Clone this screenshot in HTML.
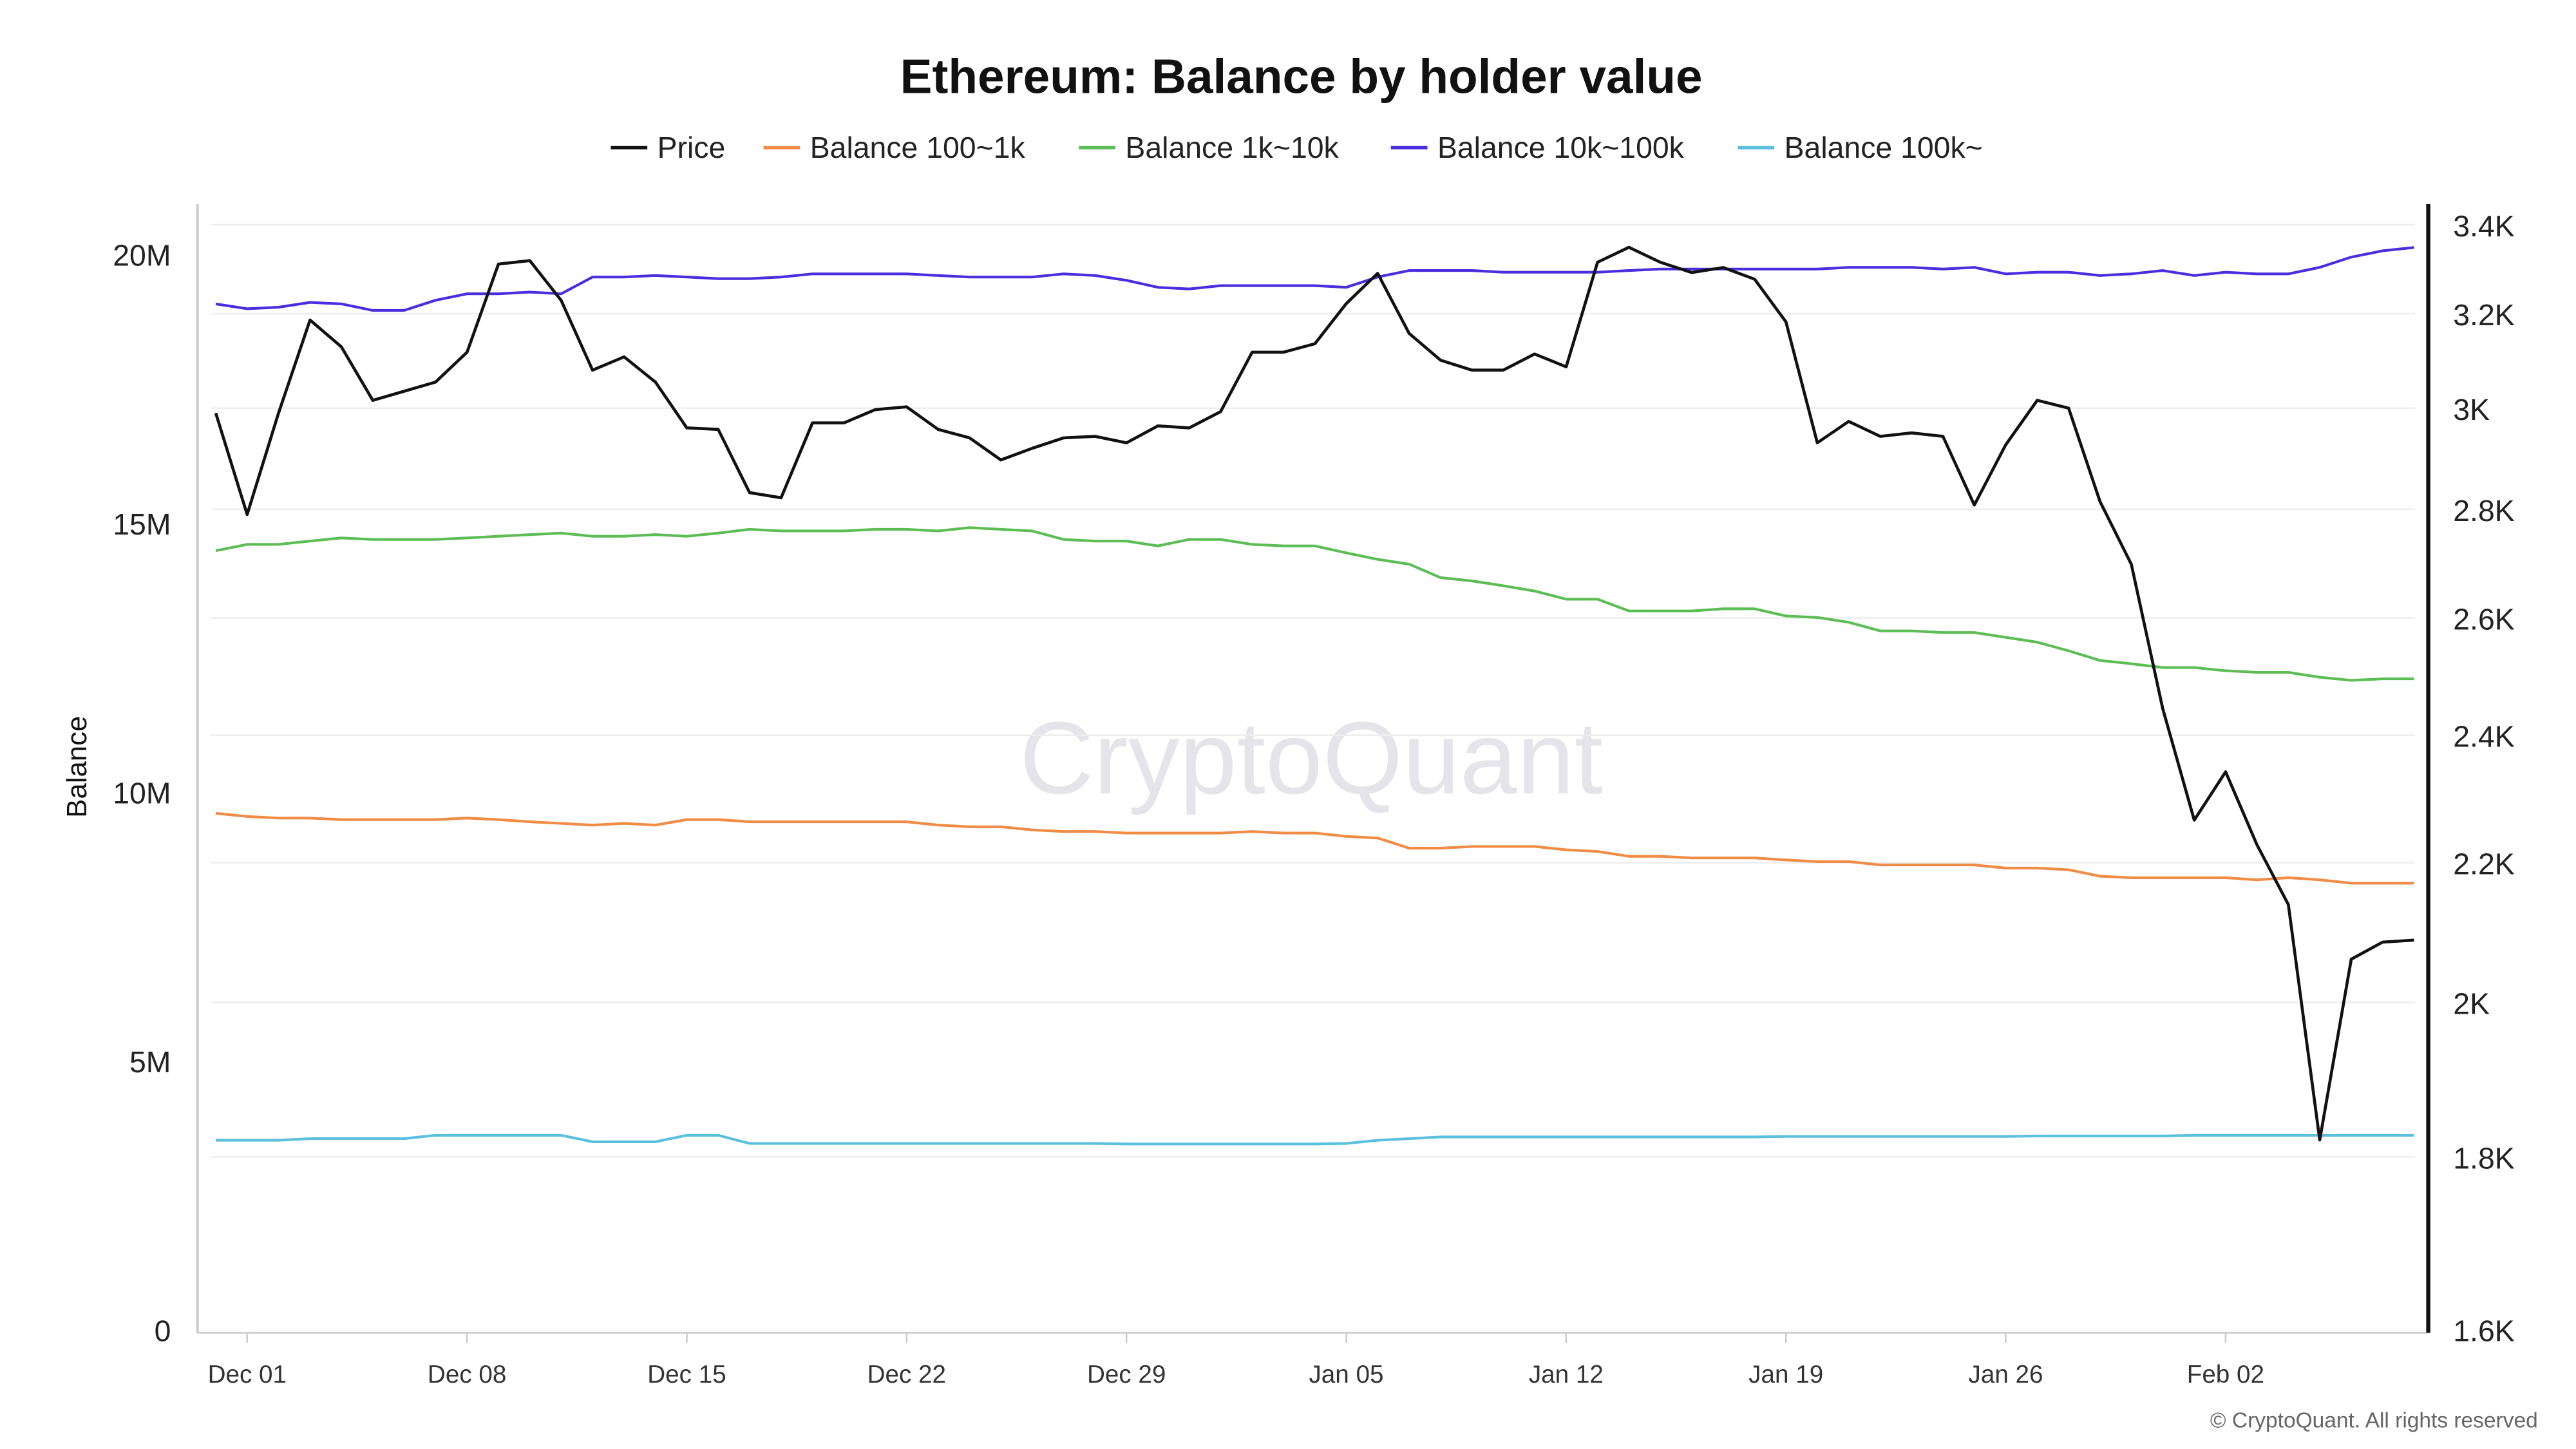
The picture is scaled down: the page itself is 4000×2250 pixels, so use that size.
<!DOCTYPE html>
<html><head><meta charset="utf-8"><style>
html,body{margin:0;padding:0;background:#fff;}
svg{display:block;font-family:"Liberation Sans",sans-serif;}
</style></head><body>
<svg id="chart" width="4000" height="2250" viewBox="0 0 1552 873" xmlns="http://www.w3.org/2000/svg">
<rect width="1552" height="873" fill="#fff"/>
<text x="784" y="56" text-anchor="middle" font-size="29" font-weight="bold" fill="#111">Ethereum: Balance by holder value</text>
<g id="legend" font-size="18" fill="#222"></g>
<text x="790" y="478" text-anchor="middle" font-size="62" fill="#e4e4ea">CryptoQuant</text>
<g id="grid"></g>
<g id="series"></g>
<g id="axes"></g>
<text transform="translate(52,462) rotate(-90)" text-anchor="middle" font-size="17" fill="#111">Balance</text>
<text x="1529" y="860" text-anchor="end" font-size="13" fill="#666">© CryptoQuant. All rights reserved</text>
</svg>
<script>
const dates = ["Nov 30"]; // 71 daily points Nov 30 .. Feb 08
const xTickLabels = ["Dec 01","Dec 08","Dec 15","Dec 22","Dec 29","Jan 05","Jan 12","Jan 19","Jan 26","Feb 02"];
const xTickIndex = [1,8,15,22,29,36,43,50,57,64];
const leftTicks = [0,5,10,15,20];
const rightTicks = [1600,1800,2000,2200,2400,2600,2800,3000,3200,3400];
const price = [2990,2790,2990,3186,3128,3016,3035,3054,3117,3310,3318,3229,3079,3107,3054,2960,2957,2832,2822,2970,2970,2997,3003,2957,2940,2896,2919,2940,2943,2930,2964,2960,2993,3117,3117,3135,3222,3289,3157,3100,3079,3079,3113,3086,3314,3348,3314,3291,3302,3276,3182,2930,2973,2943,2950,2943,2808,2926,3016,3000,2815,2697,2444,2265,2341,2227,2138,1821,2060,2084,2087];
const bal100to1k = [9.60,9.54,9.51,9.51,9.48,9.48,9.48,9.48,9.51,9.48,9.44,9.41,9.38,9.41,9.38,9.48,9.48,9.44,9.44,9.44,9.44,9.44,9.44,9.38,9.35,9.35,9.29,9.26,9.26,9.23,9.23,9.23,9.23,9.26,9.23,9.23,9.17,9.14,8.95,8.95,8.98,8.98,8.98,8.92,8.89,8.80,8.80,8.77,8.77,8.77,8.73,8.70,8.70,8.64,8.64,8.64,8.64,8.58,8.58,8.55,8.43,8.40,8.40,8.40,8.40,8.36,8.40,8.36,8.30,8.30,8.30];
const bal1kto10k = [14.48,14.60,14.60,14.66,14.72,14.69,14.69,14.69,14.72,14.75,14.78,14.81,14.75,14.75,14.78,14.75,14.81,14.88,14.85,14.85,14.85,14.88,14.88,14.85,14.91,14.88,14.85,14.69,14.66,14.66,14.57,14.69,14.69,14.60,14.57,14.57,14.44,14.32,14.23,13.98,13.92,13.83,13.73,13.58,13.58,13.36,13.36,13.36,13.40,13.40,13.27,13.24,13.15,12.99,12.99,12.96,12.96,12.87,12.78,12.62,12.44,12.38,12.31,12.31,12.25,12.22,12.22,12.13,12.07,12.10,12.10];
const bal10kto100k = [19.07,18.98,19.01,19.10,19.07,18.95,18.95,19.14,19.26,19.26,19.29,19.26,19.57,19.57,19.60,19.57,19.54,19.54,19.57,19.63,19.63,19.63,19.63,19.60,19.57,19.57,19.57,19.63,19.60,19.51,19.38,19.35,19.41,19.41,19.41,19.41,19.38,19.57,19.69,19.69,19.69,19.66,19.66,19.66,19.66,19.69,19.72,19.72,19.72,19.72,19.72,19.72,19.75,19.75,19.75,19.72,19.75,19.63,19.66,19.66,19.60,19.63,19.69,19.60,19.66,19.63,19.63,19.75,19.94,20.06,20.12];
const bal100k = [3.52,3.52,3.52,3.55,3.55,3.55,3.55,3.61,3.61,3.61,3.61,3.61,3.49,3.49,3.49,3.61,3.61,3.46,3.46,3.46,3.46,3.46,3.46,3.46,3.46,3.46,3.46,3.46,3.46,3.45,3.45,3.45,3.45,3.45,3.45,3.45,3.46,3.52,3.55,3.58,3.58,3.58,3.58,3.58,3.58,3.58,3.58,3.58,3.58,3.58,3.59,3.59,3.59,3.59,3.59,3.59,3.59,3.59,3.60,3.60,3.60,3.60,3.60,3.61,3.61,3.61,3.61,3.61,3.61,3.61,3.61];

const NS="http://www.w3.org/2000/svg";
const X0=130, DX=18.92;
const xAt = i => X0 + i*DX;
const yLeft = v => 801 - v*32.4;
const yRight = p => 801 - Math.log(p/1600)*883;
function mk(tag, attrs, parent){const e=document.createElementNS(NS,tag);for(const k in attrs)e.setAttribute(k,attrs[k]);parent.appendChild(e);return e;}
const grid=document.getElementById('grid'), series=document.getElementById('series'), axes=document.getElementById('axes'), legend=document.getElementById('legend');

rightTicks.forEach((t)=>{
  const y=yRight(t);
  if(t>1600){const g=mk('line',{x1:127,x2:1455,y1:y,y2:y,stroke:'#eeeeee','stroke-width':1},grid);
  
  }
  const tx=mk('text',{x:1478,y:y+7,'font-size':18,fill:'#222'},axes);
  tx.textContent=(t/1000)+'K';
  
  
});
leftTicks.forEach((t)=>{
  const tx=mk('text',{x:103,y:yLeft(t)+7,'text-anchor':'end','font-size':18,fill:'#222'},axes);
  tx.textContent=t===0?'0':t+'M';
  
  
});
xTickIndex.forEach((idx,k)=>{
  const tx=mk('text',{x:xAt(idx),y:833,'text-anchor':'middle','font-size':15,fill:'#333'},axes);
  tx.textContent=xTickLabels[k];
  
  
  const tk=mk('line',{x1:xAt(idx),x2:xAt(idx),y1:803,y2:809,stroke:'#ccc'},axes);
  
  
});
let a=mk('line',{x1:119,x2:119,y1:123,y2:803,stroke:'#c8c8d0','stroke-width':1.5},axes);


a=mk('line',{x1:119,x2:1463,y1:803,y2:803,stroke:'#ccc','stroke-width':1},axes);


a=mk('line',{x1:1463,x2:1463,y1:123,y2:803,stroke:'#111','stroke-width':2.5},axes);



const defs=[
 {name:'series-balance-100k',data:bal100k,color:'#5bc0de',y:yLeft,w:1.6},
 {name:'series-balance-100-1k',data:bal100to1k,color:'#f08c45',y:yLeft,w:1.6},
 {name:'series-balance-1k-10k',data:bal1kto10k,color:'#5cbd55',y:yLeft,w:1.6},
 {name:'series-balance-10k-100k',data:bal10kto100k,color:'#4b2de0',y:yLeft,w:1.6},
 {name:'series-price',data:price,color:'#111111',y:yRight,w:1.8}
];
defs.forEach(d=>{
  const pts=d.data.map((v,i)=>xAt(i).toFixed(1)+','+d.y(v).toFixed(1)).join(' ');
  const p=mk('polyline',{points:pts,fill:'none',stroke:d.color,'stroke-width':d.w,'stroke-linejoin':'round'},series);
  
  
});

const leg=[['Price','#111',368],['Balance 100~1k','#f08c45',460],['Balance 1k~10k','#5cbd55',650],['Balance 10k~100k','#4b2de0',838],['Balance 100k~','#5bc0de',1047]];
leg.forEach(l=>{
  const g=mk('g',{},legend);
  
  
  mk('line',{x1:l[2],x2:l[2]+22,y1:89,y2:89,stroke:l[1],'stroke-width':2},g);
  const t=mk('text',{x:l[2]+28,y:95,'font-size':18,fill:'#222'},g);
  t.textContent=l[0];
});
</script>
</body></html>
